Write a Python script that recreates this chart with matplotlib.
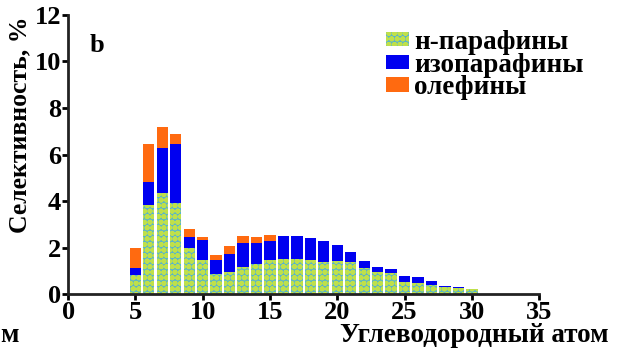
import numpy as np
import matplotlib
matplotlib.use("Agg")
from matplotlib import pyplot as plt

# carbon number and selectivity (%) per fraction
carbon = list(range(5, 31))
n_paraffins = [0.82, 3.83, 4.36, 3.90, 1.97, 1.46, 0.86, 0.96, 1.15, 1.29, 1.46, 1.50, 1.49,
               1.46, 1.39, 1.42, 1.36, 1.14, 0.95, 0.89, 0.53, 0.49, 0.39, 0.30, 0.26, 0.22]
iso_paraffins = [0.28, 0.99, 1.94, 2.54, 0.50, 0.86, 0.60, 0.76, 1.03, 0.89, 0.80, 1.01, 1.02,
                 0.93, 0.87, 0.71, 0.43, 0.28, 0.20, 0.20, 0.26, 0.23, 0.17, 0.04, 0.03, 0.0]
olefins = [0.88, 1.63, 0.90, 0.44, 0.31, 0.15, 0.22, 0.36, 0.31, 0.26, 0.28, 0, 0,
           0, 0, 0, 0, 0, 0, 0, 0, 0, 0, 0, 0, 0]
labels = ["н-парафины", "изопарафины", "олефины"]

plt.rcParams["font.family"] = ["Liberation Serif", "DejaVu Serif"]
plt.rcParams["font.weight"] = "bold"
plt.rcParams["hatch.linewidth"] = 2.0

fig = plt.figure(figsize=(6.19, 3.48), dpi=100)
ax = fig.add_axes([0.110, 0.155, 0.761, 0.802])

x = np.array(carbon)
n = np.array(n_paraffins)
iso = np.array(iso_paraffins)
ol = np.array(olefins)
w = 0.84

ax.bar(x, n, width=w, color="#58b4cc", edgecolor="#bfe04a", hatch="ooo",
       linewidth=0, label=labels[0])
ax.bar(x, iso, width=w, bottom=n, color="#0000f0", linewidth=0, label=labels[1])
ax.bar(x, ol, width=w, bottom=n + iso, color="#ff6a10", linewidth=0, label=labels[2])

ax.set_xlim(0, 35)
ax.set_ylim(0, 12)
ax.set_xticks([0, 5, 10, 15, 20, 25, 30, 35])
ax.set_yticks([0, 2, 4, 6, 8, 10, 12])
for s in ["top", "right"]:
    ax.spines[s].set_visible(False)
for s in ["left", "bottom"]:
    ax.spines[s].set_linewidth(2)
    ax.spines[s].set_color("#222222")
ax.tick_params(axis="both", direction="out", length=4, width=2, labelsize=19, pad=1)

ax.set_ylabel("Селективность, %", fontsize=18.5, fontweight="bold")
ax.yaxis.set_label_coords(-0.079, 0.605)
fig.text(0.983, 0.016, "Углеводородный атом", fontsize=19.5, fontweight="bold",
         ha="right", va="baseline")
fig.text(0.0, 0.016, "м", fontsize=19.5, fontweight="bold", ha="left", va="baseline")
ax.text(1.6, 10.4, "b", fontsize=19, fontweight="bold")

ax.legend(loc="upper right", bbox_to_anchor=(1.135, 1.015), frameon=False,
          fontsize=19.5, handlelength=0.85, handleheight=0.45, handletextpad=0.18,
          labelspacing=-0.08, borderpad=0.2)

fig.savefig("out.png", dpi=100)
